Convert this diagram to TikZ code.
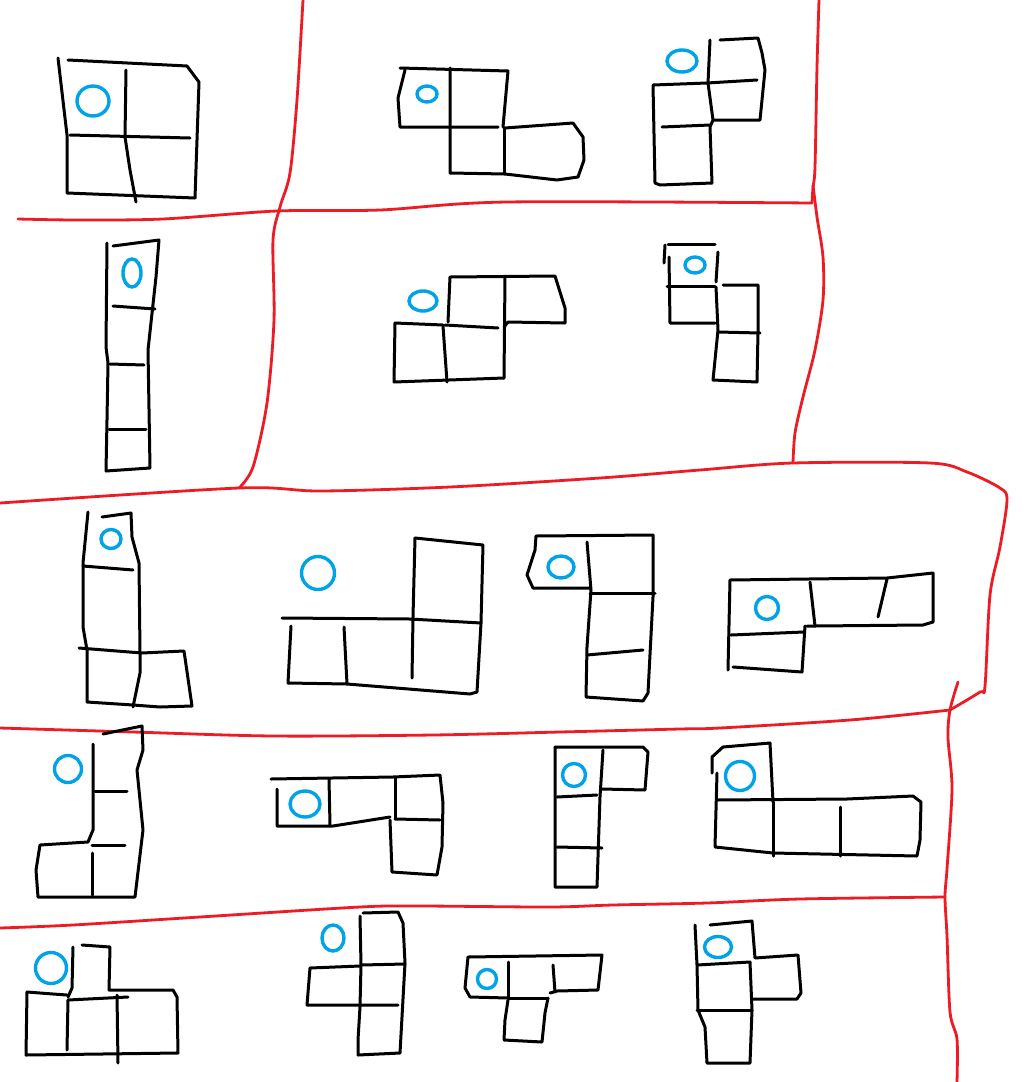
\documentclass[tikz,border=0pt]{standalone}
\usepackage{tikz}
\definecolor{Ink}{HTML}{000000}
\definecolor{Border}{HTML}{ED1C24}
\definecolor{Pivot}{HTML}{00A2E8}

\begin{document}
\begin{tikzpicture}[
  x=1pt, y=-1pt,
  cell/.style={draw=Ink, line width=3pt, line join=round, line cap=round},
  wall/.style={draw=Border, line width=2.8pt, line join=round, line cap=round},
  pivot/.style={draw=Pivot, line width=3.4pt}
]
\useasboundingbox (0,0) rectangle (1031,1082);
\fill[white] (0,0) rectangle (1031,1082);

% red borders
\draw[wall] plot[smooth, tension=0.5] coordinates {(303,0) (297,100) (290,173) (280,207) (273,240) (274,320) (267,403) (253,467) (239,488)};
\draw[wall] plot[smooth, tension=0.5] coordinates {(18,219) (77,220) (163,219) (277,211) (380,210) (507,202) (812,203)};
\draw[wall] plot[smooth, tension=0.5] coordinates {(819,0) (817,67) (815,167) (813,187) (812,203)};
\draw[wall] plot[smooth, tension=0.5] coordinates {(813,185) (817,217) (823,257) (823,300) (815,350) (803,397) (795,433) (793,463)};
\draw[wall] plot[smooth, tension=0.5] coordinates {(0,503) (239,488) (320,491) (450,487) (600,478) (700,470) (793,463) (930,463) (967,472) (1000,488) (1007,500) (1000,547) (990,595) (985,686) (980,692) (950,710)};
\draw[wall] plot[smooth, tension=0.5] coordinates {(0,728) (133,732) (273,736) (433,735) (560,732) (680,729) (720,728) (850,720) (950,710)};
\draw[wall] plot[smooth, tension=0.5] coordinates {(958,682) (950,710) (948,738) (952,789) (947,869) (945,897) (947,936) (950,1012) (957,1039) (957,1082)};
\draw[wall] plot[smooth, tension=0.5] coordinates {(0,928) (73,925) (200,917) (360,907) (420,906) (550,907) (613,905) (707,903) (800,899) (945,897)};

% row 1
\draw[cell] (58,58) -- (67,135) -- (67,193) -- (195,198);
\draw[cell] (68,60) -- (187,66) -- (199,82) -- (195,198);
\draw[cell] (70,135) -- (190,138);
\draw[cell] (126,70) -- (125,137) -- (130,170) -- (136,202);
\draw[pivot] (93,101) ellipse [x radius=16pt, y radius=15pt];

\draw[cell] (405,70) -- (398,98) -- (400,127) -- (498,127);
\draw[cell] (400,68) -- (508,71) -- (503,127);
\draw[cell] (450,68) -- (450,173) -- (505,174) -- (557,180) -- (578,177) -- (584,160) -- (583,137) -- (573,123) -- (505,128);
\draw[cell] (504,128) -- (504,174);
\draw[pivot] (427,94) ellipse [x radius=10pt, y radius=8pt];

\draw[cell] (710,40) -- (708,83) -- (713,120) -- (710,127) -- (712,183);
\draw[cell] (720,40) -- (758,38) -- (762,53) -- (765,70) -- (760,120) -- (713,120);
\draw[cell] (707,83) -- (757,80);
\draw[cell] (707,83) -- (653,85) -- (655,183) -- (660,185) -- (712,183);
\draw[cell] (662,127) -- (710,125);
\draw[pivot] (682,61) ellipse [x radius=15pt, y radius=11pt];

% row 2
\draw[cell] (107,243) -- (106,347) -- (108,363) -- (107,420) -- (106,471) -- (150,468) -- (148,350) -- (156,277) -- (159,240) -- (113,246);
\draw[cell] (113,306) -- (155,309);
\draw[cell] (110,364) -- (144,365);
\draw[cell] (109,429) -- (146,429);
\draw[pivot] (132,273) ellipse [x radius=9pt, y radius=14pt];

\draw[cell] (448,322) -- (450,277) -- (555,276) -- (565,308) -- (565,323) -- (508,322) -- (504,327);
\draw[cell] (505,277) -- (504,378);
\draw[cell] (443,325) -- (395,323) -- (394,382) -- (504,378);
\draw[cell] (443,326) -- (447,382);
\draw[cell] (445,325) -- (498,328);
\draw[pivot] (423,301) ellipse [x radius=14pt, y radius=10pt];

\draw[cell] (668,244) -- (715,244);
\draw[cell] (665,245) -- (664,263);
\draw[cell] (669,257) -- (670,323) -- (715,323);
\draw[cell] (718,252) -- (716,282);
\draw[cell] (667,286) -- (715,286);
\draw[cell] (723,285) -- (758,285) -- (758,332) -- (757,382) -- (713,380) -- (718,330) -- (716,287);
\draw[cell] (718,332) -- (760,333);
\draw[pivot] (695,265) ellipse [x radius=10pt, y radius=8pt];

% row 3
\draw[cell] (88,512) -- (83,563) -- (83,627) -- (87,650) -- (87,702) -- (133,705) -- (160,707) -- (192,706) -- (184,651) -- (142,653) -- (79,648);
\draw[cell] (102,517) -- (131,513) -- (132,537) -- (139,563) -- (140,652) -- (140,673) -- (133,707);
\draw[cell] (83,566) -- (133,570);
\draw[pivot] (111,539) ellipse [x radius=10pt, y radius=9.5pt];

\draw[cell] (282,618) -- (410,619) -- (481,623);
\draw[cell] (415,538) -- (483,545) -- (481,623) -- (477,692) -- (470,694) -- (347,684) -- (288,683) -- (291,626);
\draw[cell] (415,538) -- (413,617) -- (412,678);
\draw[cell] (344,627) -- (347,684);
\draw[pivot] (318,573) ellipse [x radius=16.5pt, y radius=16.5pt];

\draw[cell] (590,588) -- (533,588) -- (527,575) -- (535,550) -- (536,536) -- (653,535) -- (653,597) -- (648,693) -- (643,701) -- (586,697) -- (587,647) -- (591,590) -- (587,542);
\draw[cell] (590,593) -- (655,593);
\draw[cell] (587,655) -- (643,650);
\draw[pivot] (561,567) ellipse [x radius=13pt, y radius=11pt];

\draw[cell] (728,670) -- (730,580) -- (887,578) -- (933,573) -- (933,622) -- (923,625) -- (815,626) -- (807,626);
\draw[cell] (810,582) -- (815,626);
\draw[cell] (887,579) -- (878,617);
\draw[cell] (731,635) -- (804,632);
\draw[cell] (805,626) -- (802,672) -- (733,667);
\draw[pivot] (767,608) ellipse [x radius=11.5pt, y radius=11.5pt];

% row 4
\draw[cell] (103,734) -- (142,726) -- (143,750) -- (137,770) -- (143,830) -- (135,897) -- (38,897) -- (36,870) -- (40,845) -- (88,842) -- (93,830) -- (93,744);
\draw[cell] (95,791) -- (127,791);
\draw[cell] (92,845) -- (125,845);
\draw[cell] (92,853) -- (92,895);
\draw[pivot] (68,769) ellipse [x radius=13.5pt, y radius=13.5pt];

\draw[cell] (271,779) -- (393,777) -- (440,775) -- (443,803) -- (442,847) -- (437,875) -- (392,872) -- (390,820);
\draw[cell] (277,789) -- (277,826) -- (333,826) -- (390,817);
\draw[cell] (329,779) -- (330,825);
\draw[cell] (395,777) -- (395,818);
\draw[cell] (395,819) -- (440,820);
\draw[pivot] (305,804) ellipse [x radius=15pt, y radius=13pt];

\draw[cell] (555,747) -- (643,747) -- (648,752) -- (645,790) -- (602,789);
\draw[cell] (555,747) -- (555,830) -- (555,887) -- (597,887) -- (598,857) -- (600,797) -- (603,750);
\draw[cell] (557,797) -- (597,795);
\draw[cell] (557,847) -- (602,848);
\draw[pivot] (574,775) ellipse [x radius=11.5pt, y radius=11.5pt];

\draw[cell] (712,773) -- (712,757) -- (723,747) -- (770,743) -- (773,802);
\draw[cell] (717,773) -- (715,847) -- (773,853) -- (917,856) -- (920,840) -- (921,802) -- (913,796) -- (847,799) -- (717,800);
\draw[cell] (773,802) -- (773,856);
\draw[cell] (840,807) -- (840,856);
\draw[pivot] (740,776) ellipse [x radius=14.5pt, y radius=14.5pt];

% row 5
\draw[cell] (73,947) -- (72,988) -- (68,997);
\draw[cell] (82,945) -- (110,947) -- (109,990) -- (173,990) -- (177,997) -- (178,1053) -- (26,1055) -- (27,992) -- (53,994) -- (67,995);
\draw[cell] (68,1000) -- (128,997);
\draw[cell] (68,1000) -- (67,1050);
\draw[cell] (117,995) -- (118,1063);
\draw[pivot] (51,968) ellipse [x radius=15.5pt, y radius=15.5pt];

\draw[cell] (363,913) -- (398,912) -- (403,923) -- (405,963) -- (400,1053) -- (358,1055) -- (358,1040) -- (360,1007) -- (361,965) -- (360,916);
\draw[cell] (361,965) -- (405,964);
\draw[cell] (360,966) -- (310,968) -- (307,1005) -- (398,1005);
\draw[pivot] (333,938) ellipse [x radius=11pt, y radius=13pt];

\draw[cell] (508,998) -- (470,997) -- (465,988) -- (468,957) -- (602,955) -- (598,990) -- (557,991) -- (550,993);
\draw[cell] (508,962) -- (508,998) -- (548,998);
\draw[cell] (553,965) -- (555,992);
\draw[cell] (508,1000) -- (505,1020) -- (504,1040) -- (542,1042) -- (545,1013) -- (548,998);
\draw[pivot] (487,979) ellipse [x radius=9.5pt, y radius=9.5pt];

\draw[cell] (695,925) -- (697,965) -- (698,1010) -- (705,1027) -- (707,1063) -- (750,1063) -- (752,1010) -- (750,962) -- (697,965);
\draw[cell] (710,925) -- (752,921) -- (755,958) -- (798,955) -- (801,993) -- (797,999) -- (752,999);
\draw[cell] (697,1010) -- (752,1010);
\draw[pivot] (718,947) ellipse [x radius=13.5pt, y radius=10.5pt];
\end{tikzpicture}
\end{document}
